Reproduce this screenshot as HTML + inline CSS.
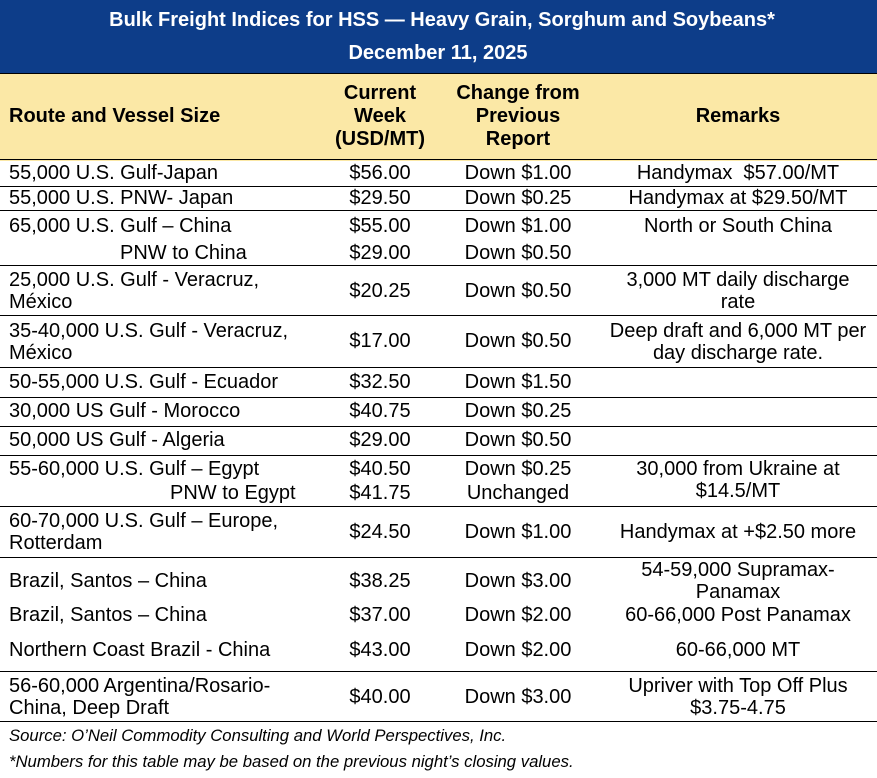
<!DOCTYPE html>
<html><head><meta charset="utf-8"><style>
html,body{margin:0;padding:0;}
body{width:877px;height:778px;position:relative;background:#fff;font-family:"Liberation Sans",Arial,sans-serif;color:#000;overflow:hidden;}
.nav{position:absolute;left:0;top:0;width:877px;height:73px;background:#0d3d89;}
.yel{position:absolute;left:0;top:73px;width:877px;height:87px;background:#fbe8a6;border-top:1px solid #000;}
.t{position:absolute;white-space:nowrap;font-size:20px;line-height:22px;}
.w{color:#fff;font-weight:bold;}
.b{font-weight:bold;}
.c{transform:translateX(-50%);text-align:center;}
.hl{position:absolute;left:0;width:877px;height:1px;background:#000;}
.i{font-style:italic;font-size:16.7px;}
</style></head><body>
<div class="nav"></div>
<div class="yel"></div>
<div class="t w c" style="left:442px;top:9px;">Bulk Freight Indices for HSS — Heavy Grain, Sorghum and Soybeans*</div>
<div class="t w c" style="left:438px;top:42px;">December 11, 2025</div>

<div class="t b" style="left:9px;top:105px;">Route and Vessel Size</div>
<div class="t b c" style="left:380px;top:82px;line-height:23px;">Current<br>Week<br>(USD/MT)</div>
<div class="t b c" style="left:518px;top:82px;line-height:23px;">Change from<br>Previous<br>Report</div>
<div class="t b c" style="left:738px;top:105px;">Remarks</div>

<div class="hl" style="top:159px;"></div>
<div class="hl" style="top:186px;"></div>
<div class="hl" style="top:210px;"></div>
<div class="hl" style="top:265px;"></div>
<div class="hl" style="top:315px;"></div>
<div class="hl" style="top:367px;"></div>
<div class="hl" style="top:397px;"></div>
<div class="hl" style="top:426px;"></div>
<div class="hl" style="top:455px;"></div>
<div class="hl" style="top:506px;"></div>
<div class="hl" style="top:557px;"></div>
<div class="hl" style="top:671px;"></div>
<div class="hl" style="top:721px;"></div>

<div class="t" style="left:9px;top:162px;">55,000 U.S. Gulf-Japan</div>
<div class="t c" style="left:380px;top:162px;">$56.00</div>
<div class="t c" style="left:518px;top:162px;">Down $1.00</div>
<div class="t c" style="left:738px;top:162px;">Handymax&nbsp; $57.00/MT</div>

<div class="t" style="left:9px;top:187px;">55,000 U.S. PNW- Japan</div>
<div class="t c" style="left:380px;top:187px;">$29.50</div>
<div class="t c" style="left:518px;top:187px;">Down $0.25</div>
<div class="t c" style="left:738px;top:187px;">Handymax at $29.50/MT</div>

<div class="t" style="left:9px;top:215px;">65,000 U.S. Gulf – China</div>
<div class="t c" style="left:380px;top:215px;">$55.00</div>
<div class="t c" style="left:518px;top:215px;">Down $1.00</div>
<div class="t c" style="left:738px;top:215px;">North or South China</div>
<div class="t" style="left:120px;top:242px;">PNW to China</div>
<div class="t c" style="left:380px;top:242px;">$29.00</div>
<div class="t c" style="left:518px;top:242px;">Down $0.50</div>

<div class="t" style="left:9px;top:269px;">25,000 U.S. Gulf - Veracruz,<br>México</div>
<div class="t c" style="left:380px;top:280px;">$20.25</div>
<div class="t c" style="left:518px;top:280px;">Down $0.50</div>
<div class="t c" style="left:738px;top:269px;">3,000 MT daily discharge<br>rate</div>

<div class="t" style="left:9px;top:320px;">35-40,000 U.S. Gulf - Veracruz,<br>México</div>
<div class="t c" style="left:380px;top:330px;">$17.00</div>
<div class="t c" style="left:518px;top:330px;">Down $0.50</div>
<div class="t c" style="left:738px;top:320px;">Deep draft and 6,000 MT per<br>day discharge rate.</div>

<div class="t" style="left:9px;top:371px;">50-55,000 U.S. Gulf - Ecuador</div>
<div class="t c" style="left:380px;top:371px;">$32.50</div>
<div class="t c" style="left:518px;top:371px;">Down $1.50</div>

<div class="t" style="left:9px;top:400px;">30,000 US Gulf - Morocco</div>
<div class="t c" style="left:380px;top:400px;">$40.75</div>
<div class="t c" style="left:518px;top:400px;">Down $0.25</div>

<div class="t" style="left:9px;top:429px;">50,000 US Gulf - Algeria</div>
<div class="t c" style="left:380px;top:429px;">$29.00</div>
<div class="t c" style="left:518px;top:429px;">Down $0.50</div>

<div class="t" style="left:9px;top:458px;">55-60,000 U.S. Gulf – Egypt</div>
<div class="t c" style="left:380px;top:458px;">$40.50</div>
<div class="t c" style="left:518px;top:458px;">Down $0.25</div>
<div class="t c" style="left:738px;top:458px;">30,000 from Ukraine at<br>$14.5/MT</div>
<div class="t" style="left:170px;top:482px;">PNW to Egypt</div>
<div class="t c" style="left:380px;top:482px;">$41.75</div>
<div class="t c" style="left:518px;top:482px;">Unchanged</div>

<div class="t" style="left:9px;top:510px;">60-70,000 U.S. Gulf – Europe,<br>Rotterdam</div>
<div class="t c" style="left:380px;top:521px;">$24.50</div>
<div class="t c" style="left:518px;top:521px;">Down $1.00</div>
<div class="t c" style="left:738px;top:521px;">Handymax at +$2.50 more</div>

<div class="t" style="left:9px;top:570px;">Brazil, Santos – China</div>
<div class="t c" style="left:380px;top:570px;">$38.25</div>
<div class="t c" style="left:518px;top:570px;">Down $3.00</div>
<div class="t c" style="left:738px;top:559px;">54-59,000 Supramax-<br>Panamax</div>

<div class="t" style="left:9px;top:604px;">Brazil, Santos – China</div>
<div class="t c" style="left:380px;top:604px;">$37.00</div>
<div class="t c" style="left:518px;top:604px;">Down $2.00</div>
<div class="t c" style="left:738px;top:604px;">60-66,000 Post Panamax</div>

<div class="t" style="left:9px;top:639px;">Northern Coast Brazil - China</div>
<div class="t c" style="left:380px;top:639px;">$43.00</div>
<div class="t c" style="left:518px;top:639px;">Down $2.00</div>
<div class="t c" style="left:738px;top:639px;">60-66,000 MT</div>

<div class="t" style="left:9px;top:675px;">56-60,000 Argentina/Rosario-<br>China, Deep Draft</div>
<div class="t c" style="left:380px;top:686px;">$40.00</div>
<div class="t c" style="left:518px;top:686px;">Down $3.00</div>
<div class="t c" style="left:738px;top:675px;">Upriver with Top Off Plus<br>$3.75-4.75</div>

<div class="t i" style="left:9px;top:725px;">Source: O’Neil Commodity Consulting and World Perspectives, Inc.</div>
<div class="t i" style="left:9px;top:751px;">*Numbers for this table may be based on the previous night’s closing values.</div>
</body></html>
